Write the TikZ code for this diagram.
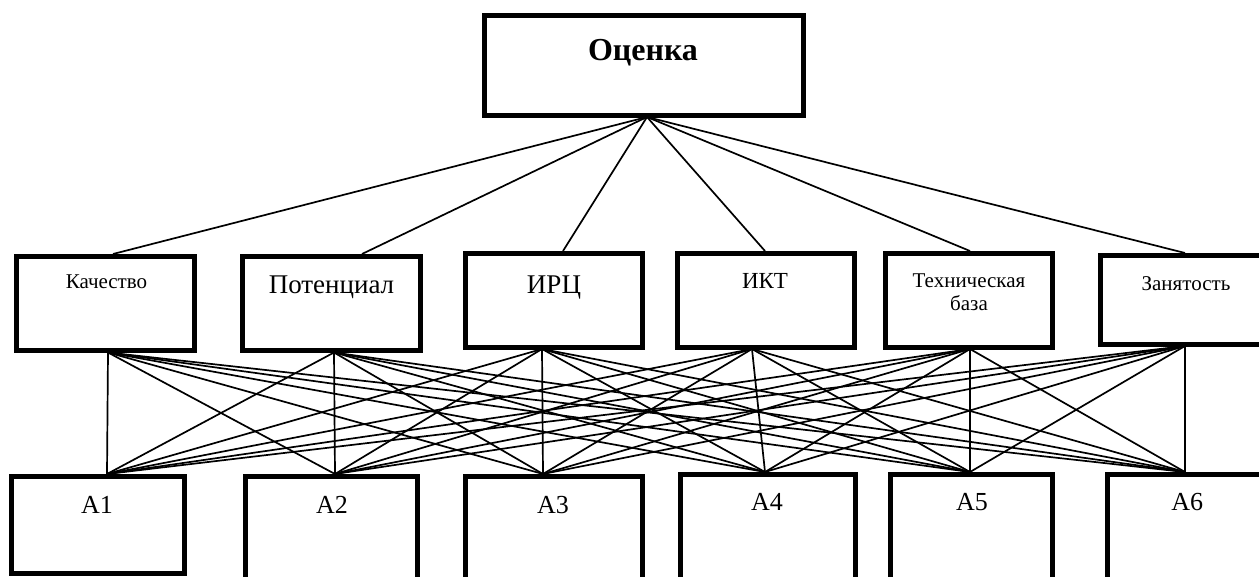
\documentclass[tikz,border=0pt]{standalone}
\usepackage{fontspec}
\setmainfont{Liberation Serif}
\begin{document}
\begin{tikzpicture}[x=1pt,y=-1pt,
  box/.style={draw=black,line width=5pt,fill=white,inner sep=0pt,outer sep=0pt,rectangle},
  lbl/.style={inner sep=0pt,outer sep=0pt,anchor=base},
  conn/.style={draw=black,line width=1.7pt}]
\useasboundingbox (0,0) rectangle (1259,576);
\begin{scope}
\clip (0,0) rectangle (1259,576);
\path (644,65.5) node[box,minimum width=319pt,minimum height=100pt] (o) {};
\path (105.5,303.5) node[box,minimum width=178pt,minimum height=94pt] (q) {};
\path (331.5,303.5) node[box,minimum width=178pt,minimum height=94pt] (p) {};
\path (554,300.5) node[box,minimum width=177pt,minimum height=94pt] (i) {};
\path (766,300.5) node[box,minimum width=177pt,minimum height=94pt] (k) {};
\path (969,300.5) node[box,minimum width=167pt,minimum height=94pt] (t) {};
\path (1181,300) node[box,minimum width=161.5pt,minimum height=89pt] (z) {};
\path (98,525) node[box,minimum width=173pt,minimum height=97pt] (a1) {};
\path (331.5,533.25) node[box,minimum width=172pt,minimum height=113.5pt] (a2) {};
\path (554,533.25) node[box,minimum width=177pt,minimum height=113.5pt] (a3) {};
\path (768,532.25) node[box,minimum width=175pt,minimum height=115.5pt] (a4) {};
\path (971.5,532.25) node[box,minimum width=162pt,minimum height=115.5pt] (a5) {};
\path (1186.25,532.25) node[box,minimum width=157.5pt,minimum height=115.5pt] (a6) {};
% connection points
\coordinate (ob) at ([shift={(3,1.5)}]o.south);
\coordinate (qt) at ([shift={(7.5,-2.5)}]q.north);
\coordinate (pt) at ([shift={(30.5,-2.5)}]p.north);
\coordinate (it) at ([shift={(9,-2.5)}]i.north);
\coordinate (kt) at ([shift={(-1,-2.5)}]k.north);
\coordinate (tt) at ([shift={(1,-2.5)}]t.north);
\coordinate (zt) at ([shift={(4,-2.5)}]z.north);
\coordinate (qb) at ([shift={(2.5,2)}]q.south);
\coordinate (pb) at ([shift={(2.5,2)}]p.south);
\coordinate (ib) at ([shift={(-12,1.5)}]i.south);
\coordinate (kb) at ([shift={(-14,1.5)}]k.south);
\coordinate (tb) at ([shift={(1,1.5)}]t.south);
\coordinate (zb) at ([shift={(4,1.5)}]z.south);
\coordinate (a1t) at ([shift={(9,-2.5)}]a1.north);
\coordinate (a2t) at ([shift={(3.5,-2.5)}]a2.north);
\coordinate (a3t) at ([shift={(-11,-2.5)}]a3.north);
\coordinate (a4t) at ([shift={(-3,-2.5)}]a4.north);
\coordinate (a5t) at ([shift={(-1.5,-2.5)}]a5.north);
\coordinate (a6t) at ([shift={(-1.25,-2.5)}]a6.north);
\foreach \m in {qt,pt,it,kt,tt,zt} \draw[conn] (ob) -- (\m);
\foreach \m in {qb,pb,ib,kb,tb,zb}
  \foreach \b in {a1t,a2t,a3t,a4t,a5t,a6t}
    \draw[conn] (\m) -- (\b);
% labels
\node[lbl,font=\fontsize{32}{36}\selectfont\bfseries] (to) at ([shift={(-1,44.5)}]o.north) {Оценка};
\node[lbl,font=\fontsize{21}{23}\selectfont] (tq) at ([shift={(1,31.5)}]q.north) {Качество};
\node[lbl,font=\fontsize{27}{30}\selectfont] (tp) at ([shift={(0,36.5)}]p.north) {Потенциал};
\node[lbl,font=\fontsize{27}{30}\selectfont] (ti) at ([shift={(0,39.5)}]i.north) {ИРЦ};
\node[lbl,font=\fontsize{23}{26}\selectfont] (tk) at ([shift={(-1,34.5)}]k.north) {ИКТ};
\node[lbl,font=\fontsize{21}{23}\selectfont,align=center] (tt1) at ([shift={(0,56.5)}]t.north) {Техническая\\база};
\node[lbl,font=\fontsize{21}{23}\selectfont] (tz) at ([shift={(5,34.5)}]z.north) {Занятость};
\node[lbl,font=\fontsize{26}{30}\selectfont] (ta1) at ([shift={(-1,36.5)}]a1.north) {A1};
\node[lbl,font=\fontsize{26}{30}\selectfont] (ta2) at ([shift={(0.5,36.5)}]a2.north) {A2};
\node[lbl,font=\fontsize{26}{30}\selectfont] (ta3) at ([shift={(-1,36.5)}]a3.north) {A3};
\node[lbl,font=\fontsize{26}{30}\selectfont] (ta4) at ([shift={(-1,35.5)}]a4.north) {A4};
\node[lbl,font=\fontsize{26}{30}\selectfont] (ta5) at ([shift={(0.5,35.5)}]a5.north) {A5};
\node[lbl,font=\fontsize{26}{30}\selectfont] (ta6) at ([shift={(1,35.5)}]a6.north) {A6};
\end{scope}
\end{tikzpicture}
\end{document}
